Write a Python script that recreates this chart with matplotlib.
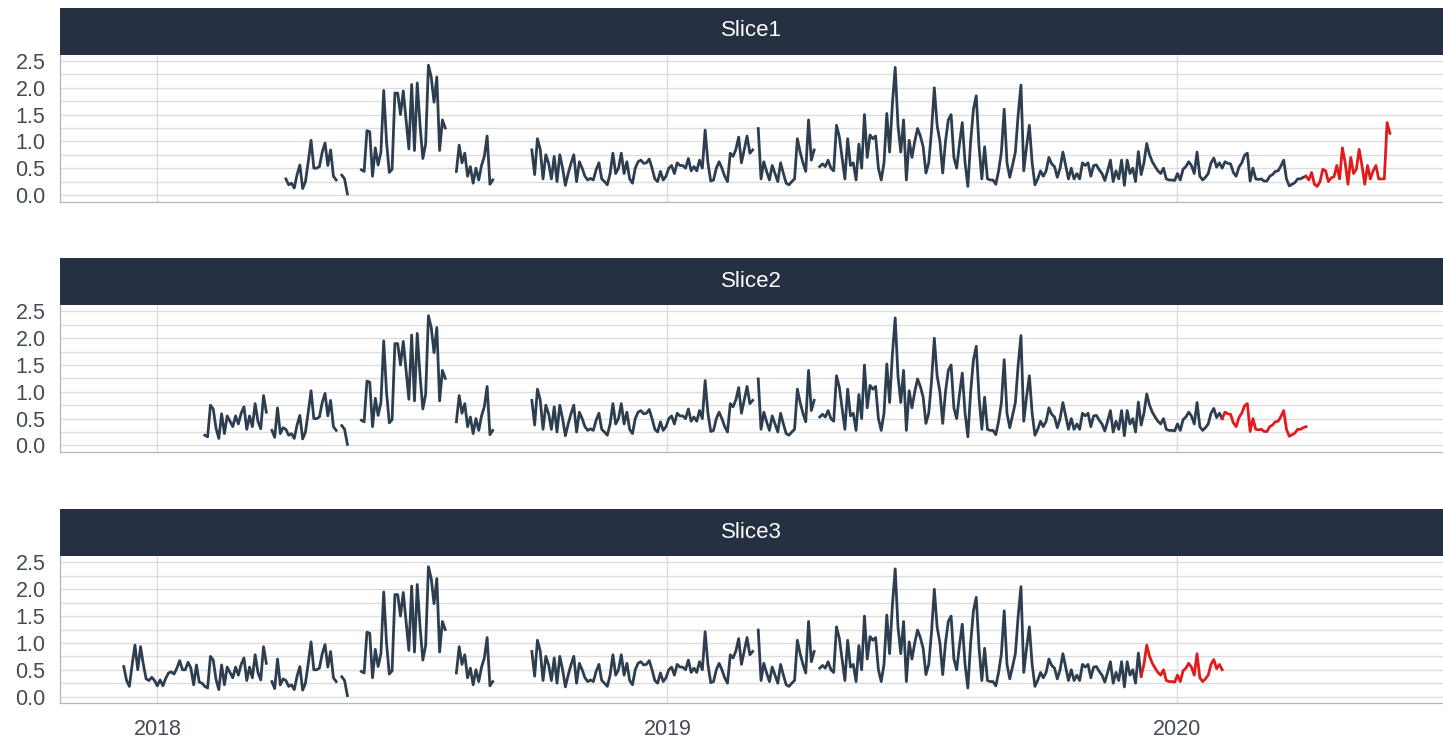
import numpy as np
import pandas as pd
import matplotlib.pyplot as plt
import matplotlib.dates as mdates
from matplotlib.patches import Rectangle

plt.rcParams['font.family'] = ['Liberation Sans', 'DejaVu Sans']

nan = np.nan

# one observation every 2 days, starting 2017-12-08
start_date = "2017-12-08"
values = [
    0.56, 0.30, 0.19, 0.60, 0.96, 0.50, 0.93, 0.60, 0.33, 0.30,
    0.36, 0.30, 0.20, 0.31, 0.20, 0.34, 0.44, 0.46, 0.42, 0.53,
    0.67, 0.50, 0.50, 0.64, 0.53, 0.22, 0.59, 0.27, 0.25, 0.19,
    0.16, 0.75, 0.68, 0.32, 0.13, 0.59, 0.22, 0.55, 0.45, 0.35,
    0.55, 0.40, 0.60, 0.72, 0.30, 0.55, 0.35, 0.78, 0.45, 0.31,
    0.93, 0.62, nan, 0.28, 0.15, 0.70, 0.22, 0.33, 0.30, 0.19,
    0.22, 0.13, 0.38, 0.56, 0.12, 0.25, 0.62, 1.02, 0.50, 0.50,
    0.53, 0.80, 0.97, 0.55, 0.84, 0.35, 0.28, nan, 0.37, 0.30,
    0.02, nan, nan, nan, nan, 0.47, 0.44, 1.20, 1.18, 0.35,
    0.88, 0.56, 0.80, 1.95, 1.00, 0.42, 0.48, 1.90, 1.90, 1.50,
    1.94, 1.40, 0.86, 2.06, 0.83, 2.09, 1.30, 0.68, 0.95, 2.42,
    2.20, 1.73, 2.20, 0.83, 1.40, 1.25, nan, nan, nan, 0.44,
    0.93, 0.60, 0.78, 0.35, 0.53, 0.22, 0.50, 0.28, 0.55, 0.72,
    1.10, 0.20, 0.28, nan, nan, nan, nan, nan, nan, nan,
    nan, nan, nan, nan, nan, nan, 0.84, 0.38, 1.05, 0.85,
    0.30, 0.75, 0.59, 0.30, 0.72, 0.25, 0.75, 0.50, 0.18, 0.40,
    0.59, 0.75, 0.25, 0.62, 0.50, 0.35, 0.28, 0.31, 0.28, 0.47,
    0.60, 0.30, 0.25, 0.19, 0.40, 0.78, 0.40, 0.50, 0.78, 0.40,
    0.62, 0.30, 0.22, 0.50, 0.62, 0.65, 0.59, 0.60, 0.67, 0.50,
    0.30, 0.25, 0.44, 0.28, 0.35, 0.50, 0.55, 0.40, 0.60, 0.55,
    0.55, 0.50, 0.68, 0.45, 0.53, 0.45, 0.65, 0.50, 1.21, 0.60,
    0.26, 0.28, 0.50, 0.62, 0.50, 0.35, 0.25, 0.78, 0.72, 0.85,
    1.08, 0.60, 0.85, 1.10, 0.78, 0.84, nan, 1.24, 0.30, 0.62,
    0.44, 0.28, 0.55, 0.40, 0.25, 0.60, 0.40, 0.22, 0.19, 0.25,
    0.30, 1.05, 0.80, 0.60, 0.44, 1.40, 0.65, 0.84, nan, 0.53,
    0.58, 0.53, 0.65, 0.50, 0.45, 1.30, 1.09, 0.70, 0.30, 1.05,
    0.55, 0.60, 0.28, 0.95, 0.50, 1.50, 0.70, 1.12, 1.05, 1.10,
    0.50, 0.28, 0.60, 1.52, 0.80, 1.70, 2.38, 1.30, 0.80, 1.40,
    0.28, 1.02, 0.70, 1.00, 1.24, 1.10, 0.90, 0.41, 0.60, 1.20,
    2.00, 1.30, 1.00, 0.41, 1.00, 1.40, 1.50, 0.70, 0.50, 0.95,
    1.35, 0.60, 0.16, 1.00, 1.60, 1.85, 0.90, 0.30, 0.90, 0.30,
    0.28, 0.28, 0.20, 0.45, 0.80, 1.60, 0.60, 0.33, 0.56, 0.80,
    1.50, 2.05, 0.45, 0.90, 1.30, 0.60, 0.19, 0.30, 0.45, 0.35,
    0.45, 0.70, 0.58, 0.53, 0.33, 0.50, 0.80, 0.55, 0.30, 0.50,
    0.30, 0.40, 0.30, 0.60, 0.55, 0.60, 0.35, 0.55, 0.56, 0.47,
    0.40, 0.27, 0.45, 0.65, 0.25, 0.45, 0.30, 0.65, 0.18, 0.65,
    0.40, 0.50, 0.25, 0.81, 0.38, 0.60, 0.96, 0.75, 0.62, 0.53,
    0.45, 0.40, 0.50, 0.30, 0.28, 0.28, 0.27, 0.40, 0.28, 0.48,
    0.53, 0.62, 0.55, 0.40, 0.80, 0.35, 0.28, 0.33, 0.40, 0.60,
    0.69, 0.52, 0.60, 0.50, 0.62, 0.59, 0.58, 0.42, 0.35, 0.52,
    0.60, 0.74, 0.78, 0.26, 0.50, 0.30, 0.29, 0.30, 0.26, 0.26,
    0.35, 0.38, 0.44, 0.45, 0.54, 0.65, 0.30, 0.17, 0.20, 0.23,
    0.30, 0.30, 0.33, 0.35, 0.28, 0.42, 0.20, 0.16, 0.25, 0.48,
    0.45, 0.25, 0.32, 0.34, 0.55, 0.30, 0.88, 0.60, 0.20, 0.70,
    0.40, 0.48, 0.85, 0.55, 0.20, 0.55, 0.30, 0.45, 0.55, 0.30,
    0.30, 0.30, 1.35, 1.15,
]
dates = pd.date_range(start_date, periods=len(values), freq="2D")
series = pd.Series(values, index=dates)

slice_names = ["Slice1", "Slice2", "Slice3"]
train_start = ["2018-04-03", "2018-02-04", "2017-12-08"]
test_start = ["2020-04-02", "2020-02-02", "2019-12-06"]
test_end = ["2020-06-01", "2020-04-02", "2020-02-02"]

dark = "#2c3e50"
red = "#e31a1c"
grid_col = "#dddddd"
text_col = "#444b55"

W, H = 1443, 738
fig = plt.figure(figsize=(W / 100, H / 100), dpi=100)

left_px = 59.5
strip_h = 47.0
axes_top = [54.5, 305.0, 556.0]
axes_bot = [201.7, 452.1, 703.3]

yticks = [0.0, 0.5, 1.0, 1.5, 2.0, 2.5]
years = pd.to_datetime(["2018-01-01", "2019-01-01", "2020-01-01"])

for k, name in enumerate(slice_names):
    top, bot = axes_top[k], axes_bot[k]
    ax = fig.add_axes([left_px / W, 1 - bot / H, 1 - left_px / W, (bot - top) / H])

    train = series[train_start[k]:test_start[k]]
    test = series[test_start[k]:test_end[k]]
    ax.plot(train.index, train.values, color=dark, lw=2.0, solid_joinstyle="round")
    ax.plot(test.index, test.values, color=red, lw=2.0, solid_joinstyle="round")

    ax.set_xlim(pd.Timestamp("2017-10-23"), pd.Timestamp("2020-07-09"))
    ax.set_ylim(-0.125, 2.62)
    ax.set_yticks(yticks)
    ax.set_yticklabels([f"{v:.1f}" for v in yticks])
    ax.set_yticks(np.arange(0.25, 2.6, 0.5), minor=True)
    ax.set_xticks(years)
    if k == 2:
        ax.set_xticklabels([str(y.year) for y in years])
    else:
        ax.set_xticklabels([])
    ax.xaxis.set_minor_locator(mdates.YearLocator())

    ax.grid(True, which="major", axis="both", color=grid_col, lw=1.0)
    ax.grid(True, which="minor", axis="y", color=grid_col, lw=1.0)
    ax.set_axisbelow(True)
    ax.tick_params(which="both", length=0)
    ax.tick_params(axis="y", pad=10, labelsize=15.5, labelcolor=text_col)
    ax.tick_params(axis="x", pad=11, labelsize=15.5, labelcolor=text_col)

    for side in ["top", "right"]:
        ax.spines[side].set_visible(False)
    for side in ["left", "bottom"]:
        ax.spines[side].set_color("#b5b5b5")
        ax.spines[side].set_linewidth(0.9)

    sh = strip_h / (bot - top)
    ax.add_patch(Rectangle((0, 1), 1, sh, transform=ax.transAxes,
                           facecolor="#253142", edgecolor="none", clip_on=False))
    ax.text(0.5, 1 + sh / 2, name, transform=ax.transAxes, ha="center",
            va="center", color="white", fontsize=16)

fig.savefig("out.png", dpi=100)
